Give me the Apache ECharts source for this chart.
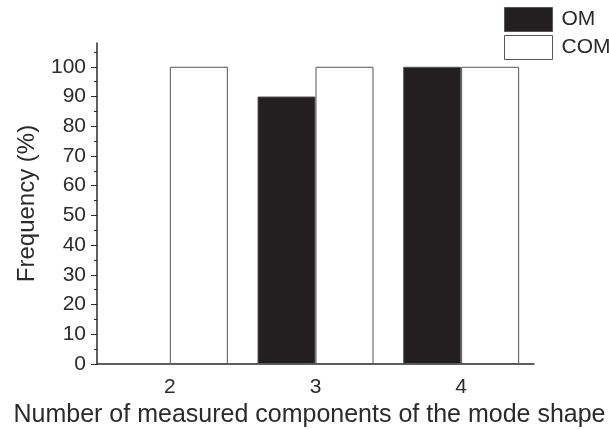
<!DOCTYPE html>
<html>
<head>
<meta charset="utf-8">
<script src="https://cdn.jsdelivr.net/npm/echarts@6/dist/echarts.min.js"></script>
<style>
html, body { margin: 0; padding: 0; background: #fff; }
#chart { width: 609px; height: 430px; }
</style>
</head>
<body>
<div id="chart"></div>
<script>
var categories = ['2', '3', '4'];
var omValues = [null, 90, 100];
var comValues = [100, 100, 100];
var yMajor = [0, 10, 20, 30, 40, 50, 60, 70, 80, 90, 100];
var yMinor = [5, 15, 25, 35, 45, 55, 65, 75, 85, 95, 105];

var chart = echarts.init(document.getElementById('chart'));
var ink = '#2b2b2b';
var font = 'Liberation Sans, Arial, sans-serif';

chart.setOption({
	animation: false,
	grid: { left: 97, right: 75, top: 43, bottom: 66, outerBoundsMode: 'none' },
	legend: {
		orient: 'vertical',
		left: 504, top: 7,
		padding: 0,
		itemWidth: 48, itemHeight: 24, itemGap: 3,
		icon: 'rect',
		itemStyle: { borderWidth: 1 },
		textStyle: { fontFamily: font, fontSize: 21, color: ink, padding: [0, 0, 0, 4] },
		data: ['OM', 'COM']
	},
	xAxis: [{
		type: 'category',
		data: categories,
		name: 'Number of measured components of the mode shape',
		nameLocation: 'middle',
		nameGap: 38,
		nameTextStyle: { fontFamily: font, fontSize: 25, color: ink, padding: [0, 12, 0, 0] },
		axisLine: { lineStyle: { color: ink, width: 1.5 } },
		axisTick: { alignWithLabel: true, length: 6, lineStyle: { color: ink } },
		axisLabel: { fontFamily: font, fontSize: 21, color: ink, margin: 13 },
		splitLine: { show: false }
	}, {
		type: 'category',
		data: categories,
		position: 'bottom',
		axisLine: { show: false },
		axisTick: { length: 4, lineStyle: { color: ink } },
		axisLabel: { show: false },
		splitLine: { show: false }
	}],
	yAxis: [{
		type: 'value',
		min: 0, max: 108,
		name: 'Frequency (%)',
		nameLocation: 'middle',
		nameGap: 58,
		nameTextStyle: { fontFamily: font, fontSize: 24, color: ink },
		axisLine: { show: true, lineStyle: { color: ink, width: 1.5 } },
		axisTick: { show: true, length: 6, customValues: yMajor, lineStyle: { color: ink } },
		axisLabel: { fontFamily: font, fontSize: 21, color: ink, margin: 11, customValues: yMajor },
		splitLine: { show: false }
	}, {
		type: 'value',
		min: 0, max: 108,
		position: 'left',
		axisLine: { show: false },
		axisTick: { show: true, length: 3, customValues: yMinor, lineStyle: { color: ink } },
		axisLabel: { show: false },
		splitLine: { show: false }
	}],
	series: [{
		name: 'OM',
		type: 'bar',
		data: omValues,
		barWidth: 58,
		barGap: '0%',
		itemStyle: { color: '#231f20', borderColor: '#555', borderWidth: 1 }
	}, {
		name: 'COM',
		type: 'bar',
		data: comValues,
		barWidth: 58,
		barGap: '0%',
		itemStyle: { color: '#fff', borderColor: '#555', borderWidth: 1 }
	}]
});
</script>
</body>
</html>
